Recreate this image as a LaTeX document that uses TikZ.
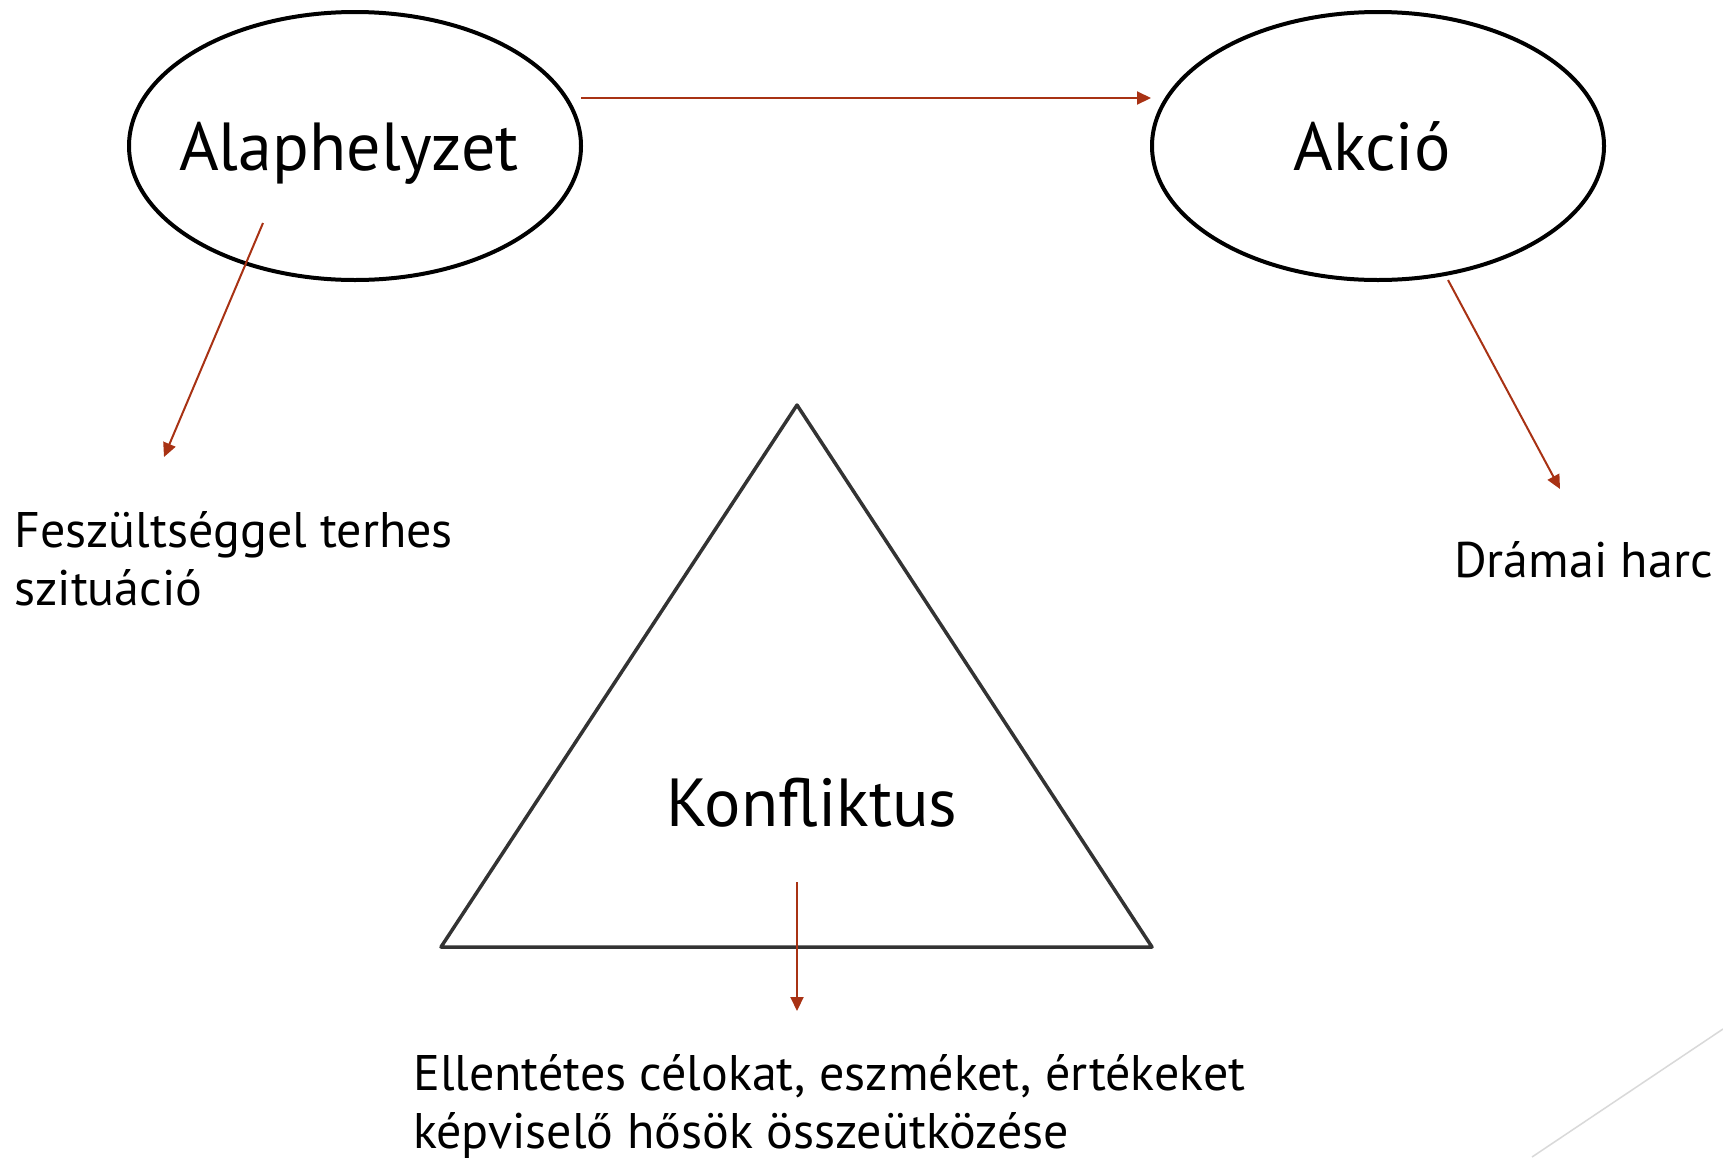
\documentclass[tikz,border=0pt]{standalone}
\usepackage{fontspec}
\setmainfont{PT Sans}
\usetikzlibrary{shapes.geometric,arrows.meta}
\definecolor{arrowred}{RGB}{168,50,20}
\definecolor{tridark}{RGB}{51,51,51}
\begin{document}
\begin{tikzpicture}[x=1pt,y=-1pt,
  oval/.style={ellipse,draw=black,line width=4pt,minimum width=452pt,minimum height=268pt,inner sep=0pt},
  conn/.style={draw=arrowred,line width=2pt,-{Triangle[length=14pt,width=13pt]}},
  big/.style={font=\fontsize{68}{80}\selectfont,inner sep=0pt},
  small/.style={font=\fontsize{50}{58}\selectfont,align=left,inner sep=0pt}]
\useasboundingbox (0,0) rectangle (1723,1157);
\fill[white] (0,0) rectangle (1723,1157);
% decorative line
\draw[draw=black!15,line width=1.5pt] (1532,1157) -- (1723,1029);
% ellipses
\node[oval] (alap) at (355,146) {};
\node[oval] (akcio) at (1378,146) {};
\node[big,anchor=base] (alaptxt) at (349,170) {Alaphelyzet};
\node[big,anchor=base] (akciotxt) at (1372,170) {Akció};
% triangle
\coordinate (tA) at (797,405);
\coordinate (tB) at (441,947);
\coordinate (tC) at (1152,947);
\draw[draw=tridark,line width=3.5pt,line join=round] (tA) -- (tB) -- (tC) -- cycle;
\node[big,anchor=base] (konf) at (812,826) {Konfliktus};
% text nodes
\node[small,anchor=base west] (fesz) at (14,605) {Feszültséggel terhes\\szituáció};
\node[small,anchor=base west] (harc) at (1454,577) {Drámai harc};
\node[small,anchor=base west] (ellen) at (413,1148) {Ellentétes célokat, eszméket, értékeket\\képviselő hősök összeütközése};
% arrow endpoints
\coordinate (s1) at (581,98);
\coordinate (e1) at (1151,98);
\coordinate (s2) at (263,223);
\coordinate (e2) at (164,457);
\coordinate (s3) at (1448,280);
\coordinate (e3) at (1560,489);
\coordinate (s4) at (797,882);
\coordinate (e4) at (797,1011);
\draw[conn] (s1) -- (e1);
\draw[conn] (s2) -- (e2);
\draw[conn] (s3) -- (e3);
\draw[conn] (s4) -- (e4);
\end{tikzpicture}
\end{document}
